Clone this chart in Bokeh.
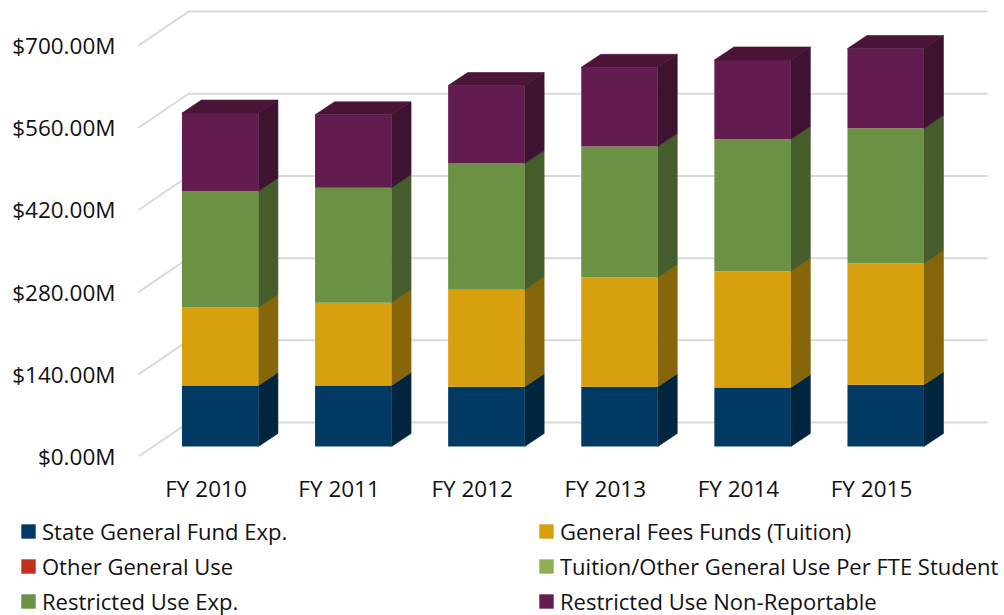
from bokeh.plotting import figure
from bokeh.embed import file_html
from bokeh.resources import INLINE
from bokeh.models import Legend, LegendItem, FixedTicker, Range1d

years = ["FY 2010", "FY 2011", "FY 2012", "FY 2013", "FY 2014", "FY 2015"]
state_fund = [104, 104, 102, 102, 100.5, 105]
general_fees = [133, 141, 165, 186, 198, 207]
other_general = [0, 0, 0, 0, 0, 0]
tuition_fte = [0, 0, 0, 0, 0, 0]
restricted = [198, 196, 215, 223, 225, 230]
non_reportable = [133, 124, 133, 135, 135, 136]
y_ticks = [0, 140, 280, 420, 560, 700]
y_labels = ["$0.00M", "$140.00M", "$280.00M", "$420.00M", "$560.00M", "$700.00M"]

series = [
    ("State General Fund Exp.", state_fund, "#033a63", "#00263f", "#00263f"),
    ("General Fees Funds (Tuition)", general_fees, "#d6a00f", "#87650a", "#87650a"),
    ("Other General Use", other_general, "#c2321a", "#7a1f10", "#7a1f10"),
    ("Tuition/Other General Use Per FTE Student", tuition_fte, "#8fb04f", "#5a6f31", "#5a6f31"),
    ("Restricted Use Exp.", restricted, "#6b9244", "#445d2b", "#445d2b"),
    ("Restricted Use Non-Reportable", non_reportable, "#631c4f", "#3e1231", "#4b1538"),
]

FONT = "Open Sans"
PX_X = 133.1          # pixels per category
PX_Y = 0.587          # pixels per $M
WIDTH, HEIGHT = 1004, 615
X0_PX, Y0_PX = 205.5, 456   # where category 0 and $0 fall

p = figure(width=WIDTH, height=HEIGHT, output_backend="svg", toolbar_location=None,
           min_border_left=0, min_border_right=0, min_border_top=0, min_border_bottom=0,
           x_range=Range1d(-X0_PX / PX_X, (WIDTH - X0_PX) / PX_X),
           y_range=Range1d((Y0_PX - HEIGHT) / PX_Y, Y0_PX / PX_Y),
           outline_line_color=None)
p.grid.visible = False
p.background_fill_color = "white"
p.border_fill_color = "white"

# walls and gridlines
wall_x0 = (138 - X0_PX) / PX_X
wall_dx = 50 / PX_X
wall_dy = 34 / PX_Y
wall_x1 = (987 - X0_PX) / PX_X
p.multi_line([[wall_x0, wall_x0 + wall_dx, wall_x1] for _ in y_ticks],
             [[v, v + wall_dy, v + wall_dy] for v in y_ticks],
             line_color="#d9d9d9", line_width=2)

# 3D stacked bars
bar_half = 38.25 / PX_X
bar_dx = 14.2 / PX_X
bar_base = 10 / PX_Y
depth_x = 19.5 / PX_X
depth_y = 13 / PX_Y

bottoms = [bar_base] * len(years)
lefts = [i + bar_dx - bar_half for i in range(len(years))]
rights = [i + bar_dx + bar_half for i in range(len(years))]
renderers = {}
for name, vals, front, side, top in series:
    tops = [b + v for b, v in zip(bottoms, vals)]
    if any(vals):
        p.patches([[r, r + depth_x, r + depth_x, r] for r in rights],
                  [[b, b + depth_y, t + depth_y, t] for b, t in zip(bottoms, tops)],
                  fill_color=side, line_color=side, line_width=0.6)
    renderers[name] = p.patches([[l, r, r, l] for l, r in zip(lefts, rights)],
                                [[b, b, t, t] for b, t in zip(bottoms, tops)],
                                fill_color=front, line_color=None)
    bottoms = tops

# roof of the stack
last_top = series[-1][4]
p.patches([[l, r, r + depth_x, l + depth_x] for l, r in zip(lefts, rights)],
          [[t, t, t + depth_y, t + depth_y] for t in tops],
          fill_color=last_top, line_color=last_top, line_width=0.6)

# axes
ax = p.xaxis[0]
ax.fixed_location = 0
ax.ticker = FixedTicker(ticks=list(range(len(years))))
ax.major_label_overrides = {i: y for i, y in enumerate(years)}
ax.axis_line_color = None
ax.major_tick_line_color = None
ax.minor_tick_line_color = None
ax.major_label_text_font = FONT
ax.major_label_text_font_size = "22.5px"
ax.major_label_text_color = "#111111"
ax.major_label_standoff = 10

ay = p.yaxis[0]
ay.fixed_location = (135 - X0_PX) / PX_X
ay.ticker = FixedTicker(ticks=y_ticks)
ay.major_label_overrides = {v: l for v, l in zip(y_ticks, y_labels)}
ay.axis_line_color = None
ay.major_tick_line_color = None
ay.minor_tick_line_color = None
ay.major_label_text_font = FONT
ay.major_label_text_font_size = "22.5px"
ay.major_label_text_color = "#111111"
ay.major_label_standoff = 14

# legend: two columns
for col, x in ((0, 19), (1, 537)):
    items = [LegendItem(label=s[0], renderers=[renderers[s[0]]]) for s in series[col::2]]
    leg = Legend(items=items, location=(x, -1), orientation="vertical",
                 glyph_width=18, glyph_height=18, label_height=20, spacing=5,
                 padding=0, margin=0, label_standoff=5,
                 label_text_font=FONT, label_text_font_size="22px",
                 label_text_color="#111111", border_line_color=None,
                 background_fill_alpha=0)
    p.add_layout(leg, "center")

open("out.html", "w").write(file_html(p, INLINE))
